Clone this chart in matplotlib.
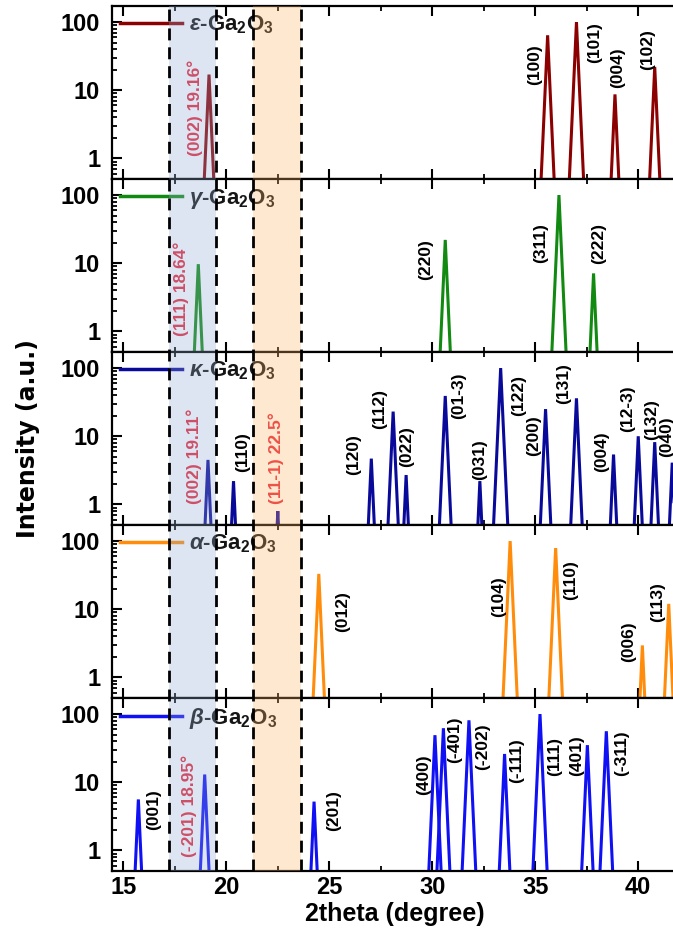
import numpy as np
import matplotlib
matplotlib.use('Agg')
import matplotlib.pyplot as plt
from matplotlib.lines import Line2D

plt.rcParams['font.family'] = ['Liberation Sans', 'DejaVu Sans']
plt.rcParams['font.weight'] = 'bold'
plt.rcParams['mathtext.fontset'] = 'custom'
plt.rcParams['mathtext.rm'] = 'Liberation Sans:bold'
plt.rcParams['mathtext.it'] = 'Liberation Sans:italic'
plt.rcParams['mathtext.bf'] = 'Liberation Sans:bold'

# ---------------- data ----------------
phase_names = ['ε', 'γ', 'κ', 'α', 'β']
phase_colors = ['#8b0000', '#128a12', '#0a0a9a', '#ff8c0a', '#1010f5']

eps_pos = [19.16, 35.60, 37.00, 38.87, 40.80]
eps_int = [17, 64, 100, 8.7, 22]
eps_hkl = ['(002) 19.16°', '(100)', '(101)', '(004)', '(102)']
eps_lab_x = [18.47, 34.95, 37.86, 39.00, 40.44]
eps_lab_y = [1.1, 11.8, 25, 10.7, 20]

gam_pos = [18.64, 30.63, 36.15, 37.83]
gam_int = [9.7, 22, 100, 7.1]
gam_hkl = ['(111) 18.64°', '(220)', '(311)', '(222)']
gam_lab_x = [17.80, 29.66, 35.24, 38.07]
gam_lab_y = [0.87, 5.6, 10, 9.7]

kap_pos = [19.11, 20.35, 22.50, 27.04, 28.10, 28.73, 30.63, 32.31, 33.32,
           35.50, 37.00, 38.80, 40.00, 40.80, 41.65]
kap_int = [4.5, 2.2, 0.8, 4.7, 23, 2.7, 39, 2.2, 100, 25, 36, 5.4, 10, 8.2, 4.1]
kap_hkl = ['(002) 19.11°', '(110)', '(11-1) 22.5°', '(120)', '(112)', '(022)',
           '(01-3)', '(031)', '(122)', '(200)', '(131)', '(004)', '(12-3)',
           '(132)', '(040)']
kap_lab_x = [18.42, 20.80, 22.42, 26.20, 27.44, 28.77, 31.30, 32.30, 34.17,
             34.90, 36.36, 38.20, 39.50, 40.63, 41.36]
kap_lab_y = [1.0, 2.95, 1.0, 2.7, 12.6, 3.5, 18, 2.3, 20, 5.2, 30, 3.0, 11.5,
             8.7, 4.9]

alp_pos = [24.49, 33.78, 35.99, 40.20, 41.48]
alp_int = [33, 100, 79, 2.95, 12]
alp_hkl = ['(012)', '(104)', '(110)', '(006)', '(113)']
alp_lab_x = [25.67, 33.20, 36.74, 39.53, 40.95]
alp_lab_y = [4.6, 7.6, 13.5, 1.66, 6.5]

bet_pos = [15.73, 18.95, 24.26, 30.13, 30.54, 31.78, 33.51, 35.23, 37.53, 38.45]
bet_int = [5.6, 13, 5.2, 49, 62, 81, 26, 100, 35, 56]
bet_hkl = ['(001)', '(-201) 18.95°', '(201)', '(400)', '(-401)', '(-202)',
           '(-111)', '(111)', '(401)', '(-311)']
bet_lab_x = [16.47, 18.20, 25.23, 29.56, 31.07, 32.43, 34.08, 35.92, 37.00, 39.18]
bet_lab_y = [2.0, 0.8, 1.9, 6.6, 19, 15, 9.7, 12.5, 12.5, 12.5]

blue_band = (17.23, 19.51)
orange_band = (21.31, 23.64)

x_ticks = [15, 20, 25, 30, 35, 40]
y_ticks = [1, 10, 100]
y_tick_labels = ['1', '10', '100']

panels = [
    (eps_pos, eps_int, eps_hkl, eps_lab_x, eps_lab_y),
    (gam_pos, gam_int, gam_hkl, gam_lab_x, gam_lab_y),
    (kap_pos, kap_int, kap_hkl, kap_lab_x, kap_lab_y),
    (alp_pos, alp_int, alp_hkl, alp_lab_x, alp_lab_y),
    (bet_pos, bet_int, bet_hkl, bet_lab_x, bet_lab_y),
]

# ---------------- figure ----------------
W, H = 673, 939
fig = plt.figure(figsize=(W / 100, H / 100), dpi=100)
left, right = 112 / W, 678 / W
bottom, top = 1 - 871 / H, 1 - 6 / H
XMIN, XMAX = 14.45, 41.93
YMIN, YMAX = 0.5, 172
BASE = 0.3
SLOPE = 0.15  # half-width (deg) per decade of peak profile

gs = fig.add_gridspec(5, 1, left=left, right=right, bottom=bottom, top=top,
                      hspace=0)
axes = []
for i, (pos, inten, hkl, lx, ly) in enumerate(panels):
    ax = fig.add_subplot(gs[i])
    axes.append(ax)
    col = phase_colors[i]
    for p, h in zip(pos, inten):
        w = SLOPE * np.log10(h / BASE)
        ax.plot([p - w, p, p + w], [BASE, h, BASE], color=col, lw=2.2,
                solid_joinstyle='miter')
    for t, x, y in zip(hkl, lx, ly):
        c = '#e8283a' if '°' in t else 'black'
        ax.text(x, y, t, rotation=90, ha='center', va='bottom', fontsize=12.5,
                fontweight='bold', color=c)
    ax.set_yscale('log')
    ax.set_xlim(XMIN, XMAX)
    ax.set_ylim(YMIN, YMAX)
    ax.set_yticks(y_ticks)
    ax.set_yticklabels(y_tick_labels)
    ax.set_xticks(x_ticks)
    ax.set_xticks(np.arange(17.5, 42, 5), minor=True)
    ax.tick_params(which='both', direction='in', top=True, right=False,
                   labelsize=17)
    ax.tick_params(axis='y', which='major', pad=8.5)
    ax.tick_params(which='major', length=7, width=1.5)
    ax.tick_params(which='minor', length=3.5, width=1.3)
    for s in ax.spines.values():
        s.set_linewidth(1.6)
    if i < 4:
        ax.tick_params(labelbottom=False)
    lab = r'$\mathit{' + phase_names[i] + r'}$-Ga$_2$O$_3$'
    leg = ax.legend([Line2D([], [], color=col, lw=2.5)], [lab], loc='upper left',
                    frameon=False, prop={'size': 16, 'weight': 'bold'},
                    handlelength=2.8, handletextpad=0.3, borderaxespad=0.1,
                    borderpad=0.25)
    for txt in leg.get_texts():
        txt.set_color('#151515')

axes[-1].set_xlabel('2theta (degree)', fontsize=18, fontweight='bold', labelpad=2)

# overlay with bands and dashed lines
ov = fig.add_axes([left, bottom, right - left, top - bottom], zorder=10)
ov.set_xlim(XMIN, XMAX)
ov.set_ylim(0, 1)
ov.axis('off')
ov.patch.set_alpha(0)
ov.axvspan(*blue_band, color='#91abd4', alpha=0.3, lw=0)
ov.axvspan(*orange_band, color='#ffb366', alpha=0.3, lw=0)
for xv in list(blue_band) + list(orange_band):
    ov.axvline(xv, color='black', lw=2.0, dashes=(4.3, 2.5))

fig.text(0.042, 1 - 438.5 / H, 'Intensity (a.u.)', rotation=90, ha='center',
         va='center', fontsize=17, fontweight='bold',
         family=['Liberation Sans Narrow', 'DejaVu Sans'])

fig.savefig('out.png', dpi=100)
